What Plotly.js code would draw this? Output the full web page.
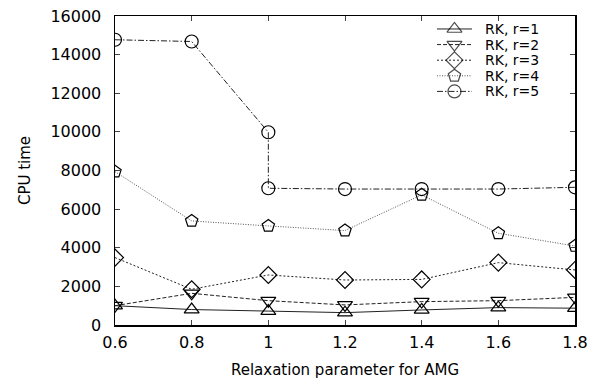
<!DOCTYPE html>
<html><head><meta charset="utf-8">
<script src="https://cdn.plot.ly/plotly-3.0.1.min.js"></script>
<style>html,body{margin:0;padding:0;background:#fff;}#chart{width:602px;height:384px;}</style>
</head><body><div id="chart"></div>
<script>
var xVals = [0.6, 0.8, 1.0, 1.2, 1.4, 1.6, 1.8];
var xVals5 = [0.6, 0.8, 1.0, 1.0, 1.2, 1.4, 1.6, 1.8];
var r1 = [1000, 800, 720, 640, 780, 900, 870];
var r2 = [1000, 1640, 1260, 1040, 1210, 1260, 1430];
var r3 = [3490, 1850, 2590, 2330, 2360, 3230, 2850];
var r4 = [7940, 5390, 5130, 4890, 6740, 4750, 4090];
var r5 = [14770, 14680, 9980, 7080, 7040, 7040, 7040, 7130];
var names = ["RK, r=1", "RK, r=2", "RK, r=3", "RK, r=4", "RK, r=5"];
var xTickVals = [0.6, 0.8, 1.0, 1.2, 1.4, 1.6, 1.8];
var xTickText = ["0.6", "0.8", "1", "1.2", "1.4", "1.6", "1.8"];

var styles = [
  {sym: "triangle-up-open", dash: "solid", color: "#222"},
  {sym: "triangle-down-open", dash: "4px,2px", color: "#222"},
  {sym: "diamond-open", dash: "2px,2px", color: "#222"},
  {sym: "pentagon-open", dash: "1px,1.5px", color: "#555"},
  {sym: "circle-open", dash: "6px,2px,1.5px,2px", color: "#222"}
];
var dataX = [xVals, xVals, xVals, xVals, xVals5];
var dataY = [r1, r2, r3, r4, r5];

var traces = [];
var annotations = [];
var legX0 = 0.70, legX1 = 0.776, legTextX = 0.802, legY0 = 0.958, legStep = 0.0505;
for (var i = 0; i < 5; i++) {
  var s = styles[i];
  traces.push({x: dataX[i], y: dataY[i], name: names[i], type: "scatter", mode: "lines+markers",
    showlegend: false,
    line: {color: s.color, width: 1, dash: s.dash},
    marker: {symbol: s.sym, size: 13, color: "#000", line: {width: 1.2, color: "#000"}}});
  var ly = legY0 - i * legStep;
  traces.push({x: [legX0, (legX0 + legX1) / 2, legX1], y: [ly, ly, ly], xaxis: "x2", yaxis: "y2",
    type: "scatter", mode: "lines+markers", showlegend: false, hoverinfo: "skip",
    line: {color: s.color, width: 1, dash: s.dash},
    marker: {symbol: s.sym, size: [0, 13, 0], color: "#000", line: {width: 1.2, color: "#000"}}});
  annotations.push({xref: "x2", yref: "y2", x: legTextX, y: ly, xanchor: "left", yanchor: "middle",
    text: names[i], showarrow: false, borderpad: 0,
    font: {family: "DejaVu Sans, sans-serif", size: 14, color: "#000"}});
}
var font = {family: "DejaVu Sans, sans-serif", size: 15, color: "#000"};
var tickFont = {family: "DejaVu Sans, sans-serif", size: 16, color: "#000"};
var layout = {
  width: 602, height: 384,
  margin: {l: 115, r: 27, t: 16, b: 59},
  paper_bgcolor: "#fff", plot_bgcolor: "#fff",
  font: font,
  showlegend: false,
  annotations: annotations,
  xaxis: {range: [0.6, 1.8], tickvals: xTickVals, ticktext: xTickText, ticks: "inside", ticklen: 5,
    showline: true, linecolor: "#000", linewidth: 1.5, mirror: "ticks", showgrid: false, zeroline: false,
    ticklabelstandoff: 2,
    title: {text: "Relaxation parameter for AMG", font: font, standoff: 14}, tickfont: tickFont},
  yaxis: {range: [0, 16000], dtick: 2000, tickformat: "d", ticks: "inside", ticklen: 5,
    showline: true, linecolor: "#000", linewidth: 1.5, mirror: "ticks", showgrid: false, zeroline: false,
    ticklabelstandoff: 9,
    title: {text: "CPU time", font: font, standoff: 16}, tickfont: tickFont},
  xaxis2: {overlaying: "x", range: [0, 1], visible: false, fixedrange: true},
  yaxis2: {overlaying: "y", range: [0, 1], visible: false, fixedrange: true}
};
Plotly.newPlot("chart", traces, layout, {displayModeBar: false, staticPlot: true});
</script></body></html>
